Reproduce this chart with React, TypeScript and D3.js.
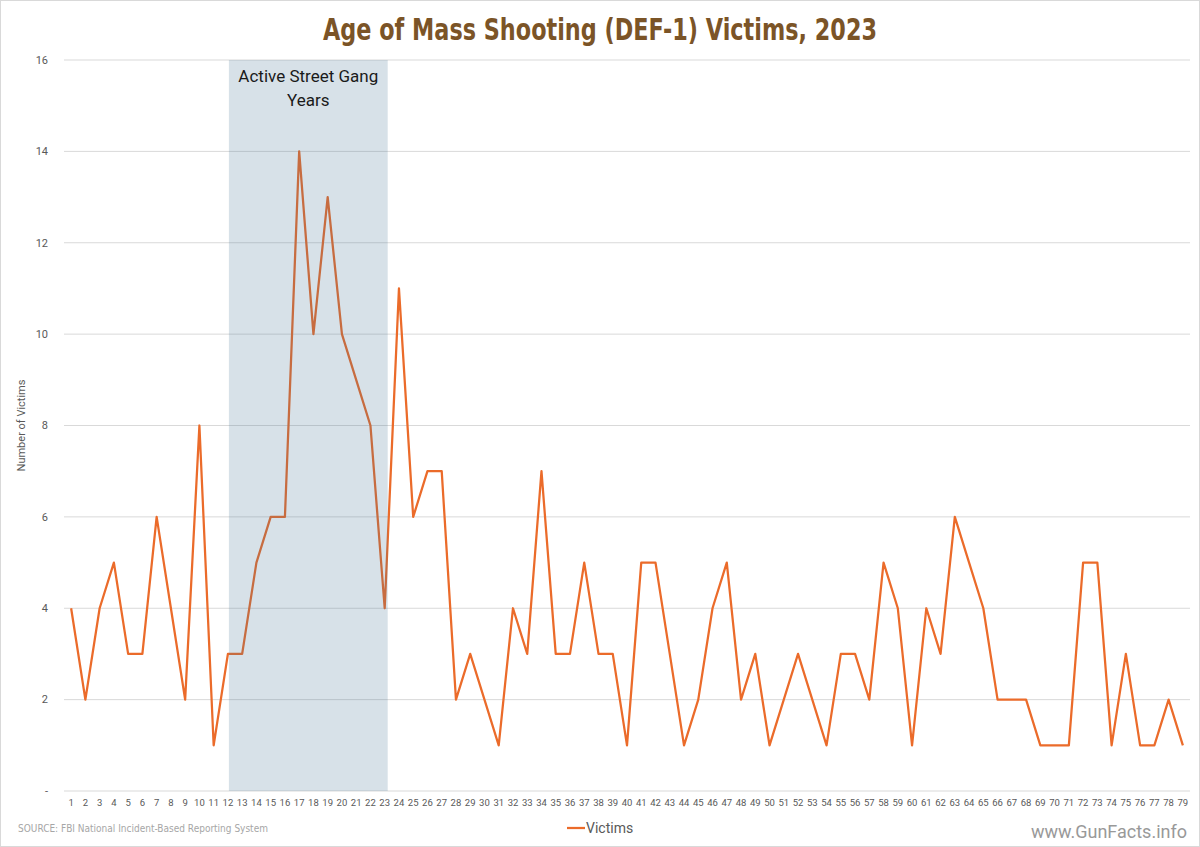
import React from "react";
import * as d3 from "d3";

const ages: number[] = d3.range(1, 80);
const victims: number[] = [
  4, 2, 4, 5, 3, 3, 6, 4, 2, 8,
  1, 3, 3, 5, 6, 6, 14, 10, 13, 10,
  9, 8, 4, 11, 6, 7, 7, 2, 3, 2,
  1, 4, 3, 7, 3, 3, 5, 3, 3, 1,
  5, 5, 3, 1, 2, 4, 5, 2, 3, 1,
  2, 3, 2, 1, 3, 3, 2, 5, 4, 1,
  4, 3, 6, 5, 4, 2, 2, 2, 1, 1,
  1, 5, 5, 1, 3, 1, 1, 2, 1,
];
const yTicks: number[] = [0, 2, 4, 6, 8, 10, 12, 14, 16];
const gangYears: [number, number] = [12, 23];

const W = 1200;
const H = 847;
const margin = { left: 64, right: 10, top: 60, bottom: 56 };

export default function App() {
  const x = d3
    .scaleBand<number>()
    .domain(ages)
    .range([margin.left, W - margin.right])
    .paddingInner(0)
    .paddingOuter(0);
  const cx = (a: number) => (x(a) as number) + x.bandwidth() / 2;
  const y = d3.scaleLinear().domain([0, 16]).range([H - margin.bottom, margin.top]);

  const line = d3
    .line<number>()
    .x((_, i) => cx(ages[i]))
    .y((d) => y(d));

  const shadeX0 = cx(gangYears[0]) + 1;
  const shadeX1 = cx(gangYears[1]) + 3;
  const labelFont = "Roboto, 'Liberation Sans', Arial, sans-serif";

  return (
    <svg
      width={W}
      height={H}
      style={{ position: "absolute", left: 0, top: 0, background: "#fff" }}
      fontFamily={labelFont}
    >
      <rect x={0.5} y={0.5} width={W - 1} height={H - 1} fill="#fff" stroke="#D9D9D9" />
      <text
        x={600}
        y={40}
        textAnchor="middle"
        fill="#7B5427"
        fontSize={31}
        fontWeight="bold"
        fontFamily="'Liberation Sans Narrow', 'DejaVu Sans Condensed', 'Roboto Condensed', sans-serif"
        textLength={554}
        lengthAdjust="spacingAndGlyphs"
      >
        Age of Mass Shooting (DEF-1) Victims, 2023
      </text>

      {yTicks.map((t) => (
        <g key={t}>
          <line
            x1={margin.left}
            x2={W - margin.right}
            y1={y(t)}
            y2={y(t)}
            stroke="#D9D9D9"
            strokeWidth={1}
          />
          <text
            x={48}
            y={y(t)}
            dy="0.35em"
            textAnchor="end"
            fontSize={11}
            fill="#595959"
          >
            {t === 0 ? "-" : t}
          </text>
        </g>
      ))}

      <text
        transform={`translate(25,${y(8)}) rotate(-90)`}
        textAnchor="middle"
        fontSize={11}
        fill="#595959"
      >
        Number of Victims
      </text>

      {ages.map((a) => (
        <text
          key={a}
          x={cx(a)}
          y={806}
          textAnchor="middle"
          fontSize={9.5}
          fill="#595959"
        >
          {a}
        </text>
      ))}

      <path
        d={line(victims) as string}
        fill="none"
        stroke="#EB6B2A"
        strokeWidth={2.25}
        strokeLinejoin="round"
      />

      <rect
        x={shadeX0}
        y={y(16)}
        width={shadeX1 - shadeX0}
        height={y(0) - y(16)}
        fill="rgb(68,114,148)"
        fillOpacity={0.21}
      />
      <text
        x={(shadeX0 + shadeX1) / 2}
        y={82}
        textAnchor="middle"
        fontSize={17}
        fill="#1a1a1a"
      >
        <tspan x={(shadeX0 + shadeX1) / 2}>Active Street Gang</tspan>
        <tspan x={(shadeX0 + shadeX1) / 2} dy={24}>
          Years
        </tspan>
      </text>

      <text x={18} y={832} fontSize={10} fill="#A6A6A6" fontFamily="'Liberation Sans Narrow', 'DejaVu Sans Condensed', sans-serif">
        SOURCE: FBI National Incident-Based Reporting System
      </text>

      <line x1={567} x2={585} y1={828} y2={828} stroke="#EB6B2A" strokeWidth={2.25} />
      <text x={586} y={833} fontSize={14} fill="#595959">
        Victims
      </text>

      <text x={1187} y={838} textAnchor="end" fontSize={18} fill="#999999">
        www.GunFacts.info
      </text>
    </svg>
  );
}
